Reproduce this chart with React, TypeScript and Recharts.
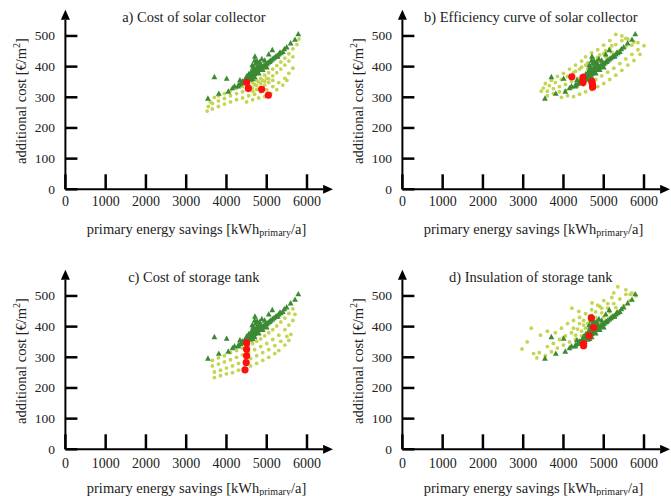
import React from 'react';
import { ScatterChart, Scatter, XAxis, YAxis } from 'recharts';

const xTicks = [0, 1000, 2000, 3000, 4000, 5000, 6000];
const yTicks = [0, 100, 200, 300, 400, 500];

const panelTitles = [
  'a) Cost of solar collector',
  'b) Efficiency curve of solar collector',
  'c) Cost of storage tank',
  'd) Insulation of storage tank',
];

// dark green triangles (reference pareto set, same in all panels)
const paretoDark: number[][] = [
  [3540, 296], [3700, 366], [3810, 312], [4005, 361], [4045, 319], [4150, 330], [4200, 336], [4290, 336],
  [4335, 356], [4708, 433], [4640, 405], [4760, 418], [4880, 425], [5050, 440], [5138, 454], [5271, 433],
  [5330, 446], [5437, 457], [5495, 463], [5594, 476], [5702, 488], [5784, 506],
  [4300, 340], [4350, 344], [4380, 348], [4400, 352], [4430, 350], [4450, 355], [4480, 358], [4500, 356],
  [4520, 362], [4540, 360], [4560, 366], [4580, 364], [4600, 370], [4620, 368], [4640, 374], [4660, 372],
  [4680, 378], [4700, 376], [4720, 382], [4740, 380], [4760, 386], [4780, 384], [4800, 390], [4830, 392],
  [4860, 396], [4890, 398], [4920, 402], [4950, 404], [4980, 408], [5010, 410], [5040, 414], [5070, 416],
  [5100, 420], [5140, 424], [5180, 428], [5220, 432], [5260, 436], [5300, 440], [5350, 444], [5400, 448],
  [4550, 375], [4600, 380], [4650, 388], [4700, 392], [4750, 398], [4800, 402], [4850, 408], [4600, 358],
  [4700, 366], [4800, 378], [4900, 390], [5000, 398], [4500, 368], [4650, 360],
  [4660, 398], [4720, 410], [4820, 415], [4950, 420], [4700, 420],
];

const lightA: number[][] = [
  [3600, 285], [3700, 300], [3800, 305], [3950, 312], [4100, 322], [4250, 330], [4400, 335], [4550, 340],
  [4650, 348], [4750, 355], [4850, 362], [4950, 372], [5050, 380], [5150, 392], [5250, 403], [5350, 415],
  [5450, 428], [5550, 442], [5650, 458], [5750, 472], [5800, 490],
  [3550, 270], [3650, 280], [3800, 288], [3950, 296], [4100, 305], [4250, 312], [4400, 318], [4550, 322],
  [4650, 330], [4750, 338], [4850, 345], [4950, 352], [5050, 360], [5150, 370], [5250, 380], [5350, 392],
  [5450, 405], [5550, 418], [5650, 432],
  [3520, 255], [3650, 262], [3800, 270], [3950, 278], [4100, 285], [4250, 292], [4400, 298], [4550, 305],
  [4700, 310], [4850, 318], [5000, 325], [5150, 335], [5300, 348], [5450, 362], [5550, 378], [5650, 395],
  [4500, 285], [4650, 292], [4800, 298], [4950, 302], [5100, 312], [5250, 325], [5400, 340], [5500, 355],
  [4500, 330], [4600, 335], [4700, 342], [4800, 350], [4900, 355], [5000, 362], [4650, 320], [4750, 325],
  [4850, 332], [4950, 340], [5050, 348], [5150, 355],
];

const lightB: number[][] = [
  [3550, 345], [3700, 355], [3850, 368], [4000, 378], [4150, 392], [4300, 405], [4450, 418], [4550, 432],
  [4700, 445], [4850, 455], [5000, 470], [5150, 485], [5300, 505], [5450, 500], [5550, 492],
  [3500, 330], [3650, 338], [3800, 348], [3950, 358], [4100, 368], [4250, 380], [4400, 392], [4550, 405],
  [4700, 418], [4850, 430], [5000, 442], [5150, 458], [5300, 472], [5450, 485], [5600, 490], [5750, 480],
  [3600, 320], [3750, 328], [3900, 335], [4050, 342], [4200, 352], [4350, 362], [4500, 372], [4650, 385],
  [4800, 398], [4950, 412], [5100, 425], [5250, 440], [5400, 452], [5550, 465], [5700, 470], [5850, 478],
  [3450, 320], [3600, 305], [3750, 312], [3900, 318], [4050, 322], [4200, 330], [4350, 335], [4500, 340],
  [4650, 348], [4800, 358], [4950, 370], [5100, 382], [5250, 395], [5400, 410], [5550, 425], [5700, 440],
  [5850, 455], [6000, 468],
  [3950, 300], [4100, 305], [4250, 302], [4400, 310], [4550, 318], [4700, 325], [4850, 335], [5000, 345],
  [5150, 358], [5300, 372], [5450, 388], [5600, 405], [5750, 420], [5900, 440],
  [4300, 385], [4450, 398], [4600, 412], [4750, 425], [4900, 438], [5050, 452], [5200, 468], [4600, 392],
  [4750, 408], [4900, 420], [5050, 432], [5200, 447],
];

const lightC: number[][] = [
  [3650, 290], [3800, 298], [3950, 305], [4100, 315], [4250, 322], [4400, 330], [4550, 338], [4650, 345],
  [4750, 352], [4850, 360], [4950, 370], [5050, 380], [5150, 390], [5250, 402], [5350, 415], [5450, 428],
  [5550, 443], [5650, 458],
  [3650, 272], [3800, 278], [3950, 285], [4100, 292], [4250, 300], [4400, 308], [4550, 315], [4700, 325],
  [4850, 335], [5000, 345], [5150, 358], [5300, 372], [5450, 390], [5550, 405],
  [3700, 252], [3850, 258], [4000, 265], [4150, 272], [4300, 280], [4450, 288], [4600, 296], [4750, 305],
  [4900, 315], [5050, 325], [5200, 338], [5350, 352], [5500, 368],
  [3700, 234], [3850, 240], [4000, 246], [4150, 250], [4300, 258], [4450, 265], [4600, 272], [4750, 280],
  [4900, 290], [5050, 300], [5200, 312], [5300, 322],
  [5450, 340], [5550, 355], [5600, 375], [5650, 420], [5700, 440],
];

const lightD: number[][] = [
  [3550, 305], [3700, 318], [3850, 330], [4000, 340], [4150, 350], [4300, 358], [4450, 370], [4600, 380],
  [4750, 392], [4900, 405], [5050, 420], [5200, 435], [5350, 450], [5500, 468], [5650, 485], [5800, 500],
  [3400, 315], [3600, 335], [3750, 345], [3900, 358], [4050, 370], [4200, 380], [4350, 392], [4500, 405],
  [4650, 418], [4800, 430], [4950, 445], [5100, 460], [5250, 475], [5400, 490], [5550, 505], [5700, 510],
  [3200, 395], [3430, 372], [3600, 385], [3800, 380], [3950, 395], [4100, 410], [4250, 420], [4400, 430],
  [4550, 442], [4700, 455], [4850, 470], [5000, 485], [5200, 495], [5350, 530], [5550, 520],
  [2970, 327], [3260, 312], [3340, 298], [3100, 350], [4210, 460], [4380, 450], [4710, 477], [4900, 466],
  [5250, 510], [5660, 505], [4000, 365], [4600, 410],
  [4300, 372], [4450, 385], [4550, 395], [4700, 405], [4850, 418], [5000, 432], [5150, 448], [5300, 462],
  [4400, 410], [4500, 420], [4650, 435], [4800, 448], [4950, 460], [5100, 475], [4250, 395],
];

const redA: number[][] = [[4502, 348], [4543, 329], [4874, 326], [5040, 307]];
const redB: number[][] = [[4207, 367], [4485, 365], [4485, 348], [4708, 351], [4723, 333], [4720, 342]];
const redC: number[][] = [[4500, 347], [4500, 326], [4500, 305], [4490, 283], [4460, 259]];
const redD: number[][] = [[4691, 429], [4749, 397], [4640, 370], [4500, 345], [4500, 338]];

const toPts = (arr: number[][]) => arr.map(([x, y]) => ({ x, y }));

const FONT = '"Liberation Serif", "Times New Roman", serif';
const W = 335;
const H = 240;
const Y_AXIS_W = 65.4;
const PLOT_TOP = 19.7;
const X_AXIS_Y = 189.3;
const X_MAX = 6400;
const Y_MAX = 553;
const PLOT_W = 257.7;

const LightDot = (p: any) => <circle cx={p.cx} cy={p.cy} r={1.9} fill="#c4d552" />;
const DarkTri = (p: any) => (
  <path d={`M${p.cx},${p.cy - 3.2} L${p.cx + 2.9},${p.cy + 2.2} L${p.cx - 2.9},${p.cy + 2.2} Z`} fill="#3c8a34" />
);
const RedDot = (p: any) => <circle cx={p.cx} cy={p.cy} r={3.6} fill="#ff1010" />;

function Panel(props: {
  left: number; top: number; title: string; light: number[][]; red: number[][];
  tickDy: number; xTitleY: number;
}) {
  const { left, top, title, light, red, tickDy, xTitleY } = props;
  const XTick = (tp: any) => (
    <g>
      <line x1={tp.x} x2={tp.x} y1={tp.y} y2={tp.y - 15} stroke="#000" strokeWidth={2.5} />
      <text x={tp.x} y={tp.y + tickDy} textAnchor="middle" dominantBaseline="central" fontSize={14} fontFamily={FONT} fill="#222">
        {tp.payload.value}
      </text>
    </g>
  );
  const YTick = (tp: any) => (
    <g>
      <line x1={tp.x} x2={tp.x + 12} y1={tp.y} y2={tp.y} stroke="#000" strokeWidth={2.5} />
      <text x={tp.x - 10.5} y={tp.y} textAnchor="end" dominantBaseline="central" fontSize={13.5} fontFamily={FONT} fill="#222">
        {tp.payload.value}
      </text>
    </g>
  );
  return (
    <div style={{ position: 'absolute', left, top, width: W, height: H }}>
      <ScatterChart
        width={W}
        height={H}
        margin={{ top: PLOT_TOP, right: W - Y_AXIS_W - PLOT_W, bottom: 0, left: 0 }}
      >
        <XAxis
          type="number"
          dataKey="x"
          domain={[0, X_MAX]}
          ticks={xTicks}
          interval={0}
          allowDataOverflow
          height={H - X_AXIS_Y}
          tickSize={0}
          tickMargin={0}
          tickLine={false}
          tick={XTick}
          axisLine={{ stroke: '#000', strokeWidth: 2, markerEnd: 'url(#arrowHead)' } as any}
        />
        <YAxis
          type="number"
          dataKey="y"
          domain={[0, Y_MAX]}
          ticks={yTicks}
          interval={0}
          allowDataOverflow
          width={Y_AXIS_W}
          tickSize={0}
          tickMargin={0}
          tickLine={false}
          tick={YTick}
          axisLine={{ stroke: '#000', strokeWidth: 2, markerStart: 'url(#arrowHead)' } as any}
        />
        <Scatter data={toPts(light)} shape={LightDot} isAnimationActive={false} />
        <Scatter data={toPts(paretoDark)} shape={DarkTri} isAnimationActive={false} />
        <Scatter data={toPts(red)} shape={RedDot} isAnimationActive={false} />
      </ScatterChart>
      <svg width={W} height={H} style={{ position: 'absolute', left: 0, top: 0, pointerEvents: 'none', overflow: 'visible' }}>
        <text x={Y_AXIS_W + 128.4} y={16.7} textAnchor="middle" dominantBaseline="central" fontSize={14.5} fontFamily={FONT} fill="#222">
          {title}
        </text>
        <text x={196.5} y={xTitleY} textAnchor="middle" dominantBaseline="central" fontSize={14.5} fontFamily={FONT} fill="#222">
          primary energy savings [kWh<tspan fontSize={10} dy={3}>primary</tspan><tspan dy={-3}>/a]</tspan>
        </text>
        <text
          x={21}
          y={101}
          transform="rotate(-90 21 101)"
          textAnchor="middle"
          dominantBaseline="central"
          fontSize={14.5}
          fontFamily={FONT}
          fill="#222"
        >
          additional cost [€/m<tspan fontSize={10} dy={-5}>2</tspan><tspan dy={5}>]</tspan>
        </text>
      </svg>
    </div>
  );
}

export default function App() {
  return (
    <div style={{ position: 'absolute', left: 0, top: 0, width: 671, height: 496, overflow: 'hidden', background: '#fff' }}>
      <svg width={0} height={0} style={{ position: 'absolute' }}>
        <defs>
          <marker
            id="arrowHead"
            viewBox="0 0 10 9"
            refX={0}
            refY={4.5}
            markerWidth={5}
            markerHeight={4.5}
            markerUnits="strokeWidth"
            orient="auto-start-reverse"
          >
            <path d="M0,0 L10,4.5 L0,9 Z" fill="#000" />
          </marker>
        </defs>
      </svg>
      <Panel left={0} top={0} title={panelTitles[0]} light={lightA} red={redA} tickDy={12.4} xTitleY={228.5} />
      <Panel left={336.7} top={0} title={panelTitles[1]} light={lightB} red={redB} tickDy={12.4} xTitleY={228.5} />
      <Panel left={0} top={260.4} title={panelTitles[2]} light={lightC} red={redC} tickDy={14} xTitleY={227.6} />
      <Panel left={336.7} top={260.4} title={panelTitles[3]} light={lightD} red={redD} tickDy={14} xTitleY={227.6} />
    </div>
  );
}
